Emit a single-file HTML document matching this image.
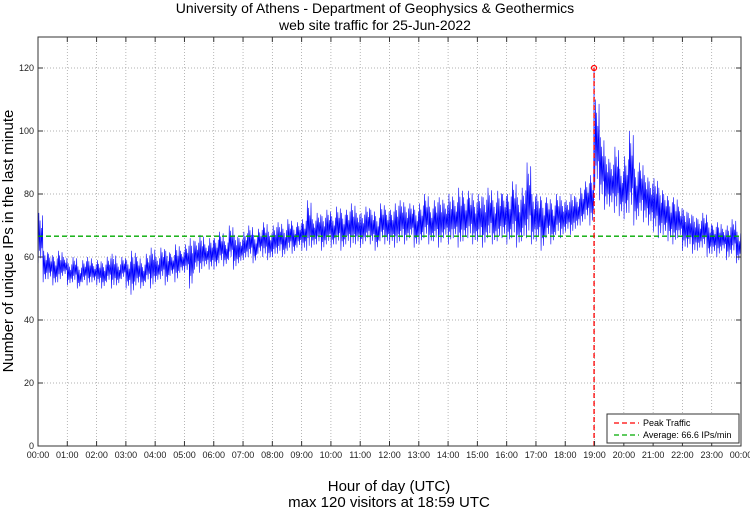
<!DOCTYPE html>
<html><head><meta charset="utf-8"><style>
body{margin:0;background:#fff;}
svg text{font-family:"Liberation Sans",sans-serif;}
</style></head><body>
<svg id="chart" width="750" height="511" xmlns="http://www.w3.org/2000/svg">
<text x="375" y="13" font-size="14" text-anchor="middle">University of Athens - Department of Geophysics &amp; Geothermics</text>
<text x="375" y="30" font-size="14" text-anchor="middle">web site traffic for 25-Jun-2022</text>
<text transform="translate(13,241) rotate(-90)" font-size="15" text-anchor="middle">Number of unique IPs in the last minute</text>
<text x="389" y="491" font-size="15" text-anchor="middle">Hour of day (UTC)</text>
<text x="389" y="507" font-size="15" text-anchor="middle">max 120 visitors at 18:59 UTC</text>
<g id="grid"></g><g id="series"></g><g id="axes"></g>
<g>
<rect x="607" y="414" width="132" height="29" fill="#fff" stroke="#333" stroke-width="1"/>
<line x1="614" y1="423" x2="639" y2="423" stroke="#f00" stroke-width="1.3" stroke-dasharray="5,3"/>
<text x="643" y="426" font-size="9">Peak Traffic</text>
<line x1="614" y1="435" x2="639" y2="435" stroke="#0a0" stroke-width="1.3" stroke-dasharray="5,3"/>
<text x="643" y="438" font-size="9">Average: 66.6 IPs/min</text>
</g>
</svg>
<script>
const hourLabels=["00:00","01:00","02:00","03:00","04:00","05:00","06:00","07:00","08:00","09:00","10:00","11:00","12:00","13:00","14:00","15:00","16:00","17:00","18:00","19:00","20:00","21:00","22:00","23:00","00:00"];
const yTicks=[0,20,40,60,80,100,120];
const average=66.6;
const peakMinute=1139;
const peakValue=120;
// ten-minute bins: [low, high] visitors
const bins=[
[58,74],[52,62],[53,61],[51,60],[52,62],[54,60],
[51,58],[52,60],[50,57],[52,59],[51,60],[52,58],
[51,59],[50,58],[52,60],[50,61],[51,58],[53,60],
[50,59],[48,62],[51,60],[50,58],[52,61],[50,63],
[52,60],[53,63],[51,62],[54,61],[52,64],[55,62],
[55,64],[50,66],[56,65],[55,67],[57,64],[56,66],
[56,66],[58,68],[57,65],[59,70],[56,67],[58,66],
[59,68],[60,70],[58,67],[61,69],[60,71],[59,68],
[60,70],[61,71],[60,69],[62,72],[61,70],[63,71],
[62,72],[62,78],[63,72],[64,74],[62,73],[64,75],
[63,73],[64,76],[62,74],[64,75],[63,77],[64,74],
[63,74],[65,76],[64,75],[62,73],[65,77],[64,75],
[64,75],[63,77],[65,78],[64,76],[66,77],[63,75],
[64,77],[66,80],[64,76],[65,78],[63,79],[66,77],
[64,80],[66,78],[63,82],[65,79],[66,81],[64,78],
[65,80],[63,79],[66,82],[64,78],[65,81],[66,80],
[64,80],[66,84],[63,79],[65,82],[66,90],[64,80],
[65,80],[62,78],[66,79],[64,77],[67,80],[66,78],
[68,78],[67,80],[69,79],[70,82],[72,84],[70,86],
[82,110],[78,98],[75,92],[76,90],[74,95],[73,88],
[72,92],[74,100],[70,88],[73,90],[71,86],[70,84],
[68,85],[66,82],[67,80],[65,78],[64,79],[66,76],
[62,75],[63,74],[61,73],[62,72],[63,74],[60,71],
[61,70],[60,71],[62,69],[59,70],[61,72],[58,68]];
const L=38,R=741,T=37,B=446;
const xS=m=>L+(R-L)*m/1440;
const yS=v=>B-(B-68)*v/120;
const NS="http://www.w3.org/2000/svg";
function mk(tag,attrs,parent){const e=document.createElementNS(NS,tag);for(const k in attrs)e.setAttribute(k,attrs[k]);parent.appendChild(e);return e;}
const grid=document.getElementById('grid'),axes=document.getElementById('axes'),series=document.getElementById('series');
hourLabels.forEach((h,i)=>{const x=xS(i*60);
 if(i>0&&i<24){const g=mk('line',{x1:x,x2:x,y1:T,y2:B,stroke:'#999','stroke-width':0.7,'stroke-dasharray':'1,2'},grid);
 
 }
 mk('line',{x1:x,x2:x,y1:B,y2:B-5,stroke:'#333'},axes);
 mk('line',{x1:x,x2:x,y1:T,y2:T+5,stroke:'#333'},axes);
 const t=mk('text',{x:x,y:B+12,'font-size':9,'text-anchor':'middle',fill:'#222'},axes);t.textContent=h;
 
 });
yTicks.forEach(v=>{const y=yS(v);
 if(v>0){const g=mk('line',{x1:L,x2:R,y1:y,y2:y,stroke:'#999','stroke-width':0.7,'stroke-dasharray':'1,2'},grid);
 
 }
 mk('line',{x1:L,x2:L+5,y1:y,y2:y,stroke:'#333'},axes);
 mk('line',{x1:R,x2:R-5,y1:y,y2:y,stroke:'#333'},axes);
 const t=mk('text',{x:L-4,y:y+3,'font-size':9,'text-anchor':'end',fill:'#222'},axes);t.textContent=v;
 
 });
const frame=mk('rect',{x:L,y:T,width:R-L,height:B-T,fill:'none',stroke:'#333'},axes);


const fr=[0,1,0.25,0.85,0.1,0.7,0.3,0.95];
let pts=[];
bins.forEach((b,i)=>{fr.forEach((f,k)=>{pts.push([i*10+k*1.25+0.5,b[0]+(b[1]-b[0])*f]);});});
pts.push([peakMinute,peakValue]);
pts.sort((a,b)=>a[0]-b[0]);
const line=mk('polyline',{points:pts.map(p=>xS(p[0]).toFixed(2)+','+yS(p[1]).toFixed(1)).join(' '),fill:'none',stroke:'#00f','stroke-width':0.6},series);


const avg=mk('line',{x1:L,x2:R,y1:yS(average),y2:yS(average),stroke:'#0a0','stroke-width':1.3,'stroke-dasharray':'5,3'},series);


const pk=mk('line',{x1:xS(peakMinute),x2:xS(peakMinute),y1:B,y2:yS(peakValue),stroke:'#f00','stroke-width':1.3,'stroke-dasharray':'5,3'},series);


const c=mk('circle',{cx:xS(peakMinute),cy:yS(peakValue),r:2.5,fill:'none',stroke:'#f00','stroke-width':1.2},series);


</script>
</body></html>
